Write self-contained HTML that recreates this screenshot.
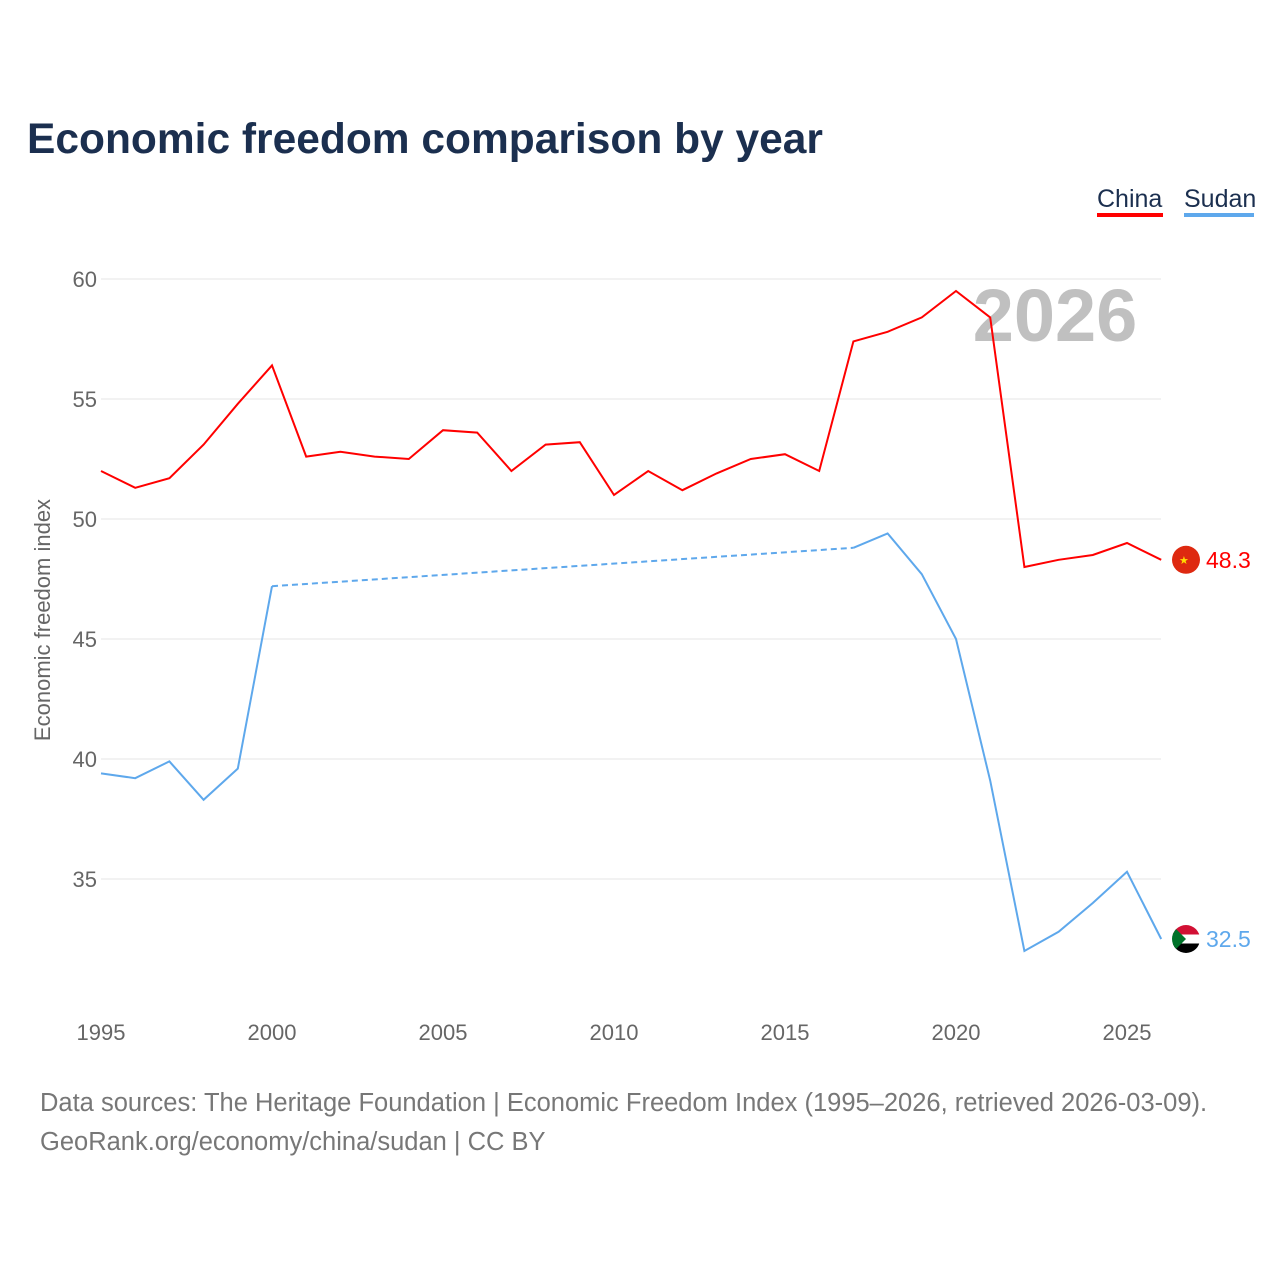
<!DOCTYPE html>
<html><head><meta charset="utf-8"><style>
body{margin:0;width:1280px;height:1280px;background:#fff;font-family:"Liberation Sans",sans-serif;overflow:hidden}
</style></head><body>
<svg width="1280" height="1280">
<defs><clipPath id="sdclip"><circle cx="1186" cy="938" r="14"/></clipPath></defs>
<text x="27" y="153" font-size="42.5" font-weight="bold" fill="#1b2f4f">Economic freedom comparison by year</text>
<g>
<text x="1097" y="207" font-size="25" fill="#1b2f4f">China</text>
<rect x="1097" y="213" width="66" height="4" fill="#f00"/>
<text x="1184" y="207" font-size="25" fill="#1b2f4f">Sudan</text>
<rect x="1184" y="213" width="70" height="4" fill="#5ea8ec"/>
</g>
<g id="grid"></g>
<text x="1055" y="341" font-size="74" font-weight="bold" fill="#c0c0c0" text-anchor="middle">2026</text>
<text transform="translate(50,620) rotate(-90)" font-size="22" fill="#666" text-anchor="middle">Economic freedom index</text>
<g id="series"></g>
<text x="40" y="1111" font-size="25.5" fill="#777">Data sources: The Heritage Foundation | Economic Freedom Index (1995–2026, retrieved 2026-03-09).</text>
<text x="40" y="1150" font-size="25.5" fill="#777">GeoRank.org/economy/china/sudan | CC BY</text>
</svg>
<script>
const years=[1995,1996,1997,1998,1999,2000,2001,2002,2003,2004,2005,2006,2007,2008,2009,2010,2011,2012,2013,2014,2015,2016,2017,2018,2019,2020,2021,2022,2023,2024,2025,2026];
const china=[52.0,51.3,51.7,53.1,54.8,56.4,52.6,52.8,52.6,52.5,53.7,53.6,52.0,53.1,53.2,51.0,52.0,51.2,51.9,52.5,52.7,52.0,57.4,57.8,58.4,59.5,58.4,48.0,48.3,48.5,49.0,48.3];
const sudan=[39.4,39.2,39.9,38.3,39.6,47.2,null,null,null,null,null,null,null,null,null,null,null,null,null,null,null,null,48.8,49.4,47.7,45.0,39.1,32.0,32.8,34.0,35.3,32.5];
const yTicks=[35,40,45,50,55,60];
const xTicks=[1995,2000,2005,2010,2015,2020,2025];
const NS="http://www.w3.org/2000/svg";
const X=y=>101+(y-1995)*34.2;
const Y=v=>279+(60-v)*24;
function mk(t,a,p){const e=document.createElementNS(NS,t);for(const k in a)e.setAttribute(k,a[k]);p.appendChild(e);return e;}
const grid=document.getElementById('grid'),ser=document.getElementById('series');
yTicks.forEach(v=>{
 const l=mk('line',{x1:101,x2:1161,y1:Y(v),y2:Y(v),stroke:'#e6e6e6','stroke-width':1},grid);
 
 
 const t=mk('text',{x:97,y:Y(v)+8,'font-size':22,fill:'#666','text-anchor':'end'},grid);t.textContent=v;
 
 
});
xTicks.forEach(v=>{
 const t=mk('text',{x:X(v),y:1040,'font-size':22,fill:'#666','text-anchor':'middle'},grid);t.textContent=v;
 
 
});
function draw(vals,color,name){
 let segs=[],cur=[];
 vals.forEach((v,i)=>{if(v==null){if(cur.length)segs.push(cur);cur=[];}else cur.push([X(years[i]),Y(v)]);});
 if(cur.length)segs.push(cur);
 segs.forEach(s=>{const p=mk('path',{d:'M'+s.map(q=>q.join(',')).join('L'),fill:'none',stroke:color,'stroke-width':2},ser);
  
  });
 for(let i=1;i<segs.length;i++){const a=segs[i-1][segs[i-1].length-1],b=segs[i][0];
  const p=mk('line',{x1:a[0],y1:a[1],x2:b[0],y2:b[1],stroke:color,'stroke-width':2,'stroke-dasharray':'6,4'},ser);
  
  }
 const lv=vals[vals.length-1],cy=Y(lv);
 const g=mk('g',{transform:`translate(0,${cy-938})`},ser);
 
 
 if(name=='sudan'){
  const f=mk('g',{'clip-path':'url(#sdclip)'},g);
  mk('rect',{x:1172,y:924,width:28,height:28,fill:'#fff'},f);
  mk('rect',{x:1172,y:924,width:28,height:9.5,fill:'#d21034'},f);
  mk('rect',{x:1172,y:942.5,width:28,height:9.5,fill:'#000'},f);
  mk('path',{d:'M1172,924L1186,938L1172,952Z',fill:'#007229'},f);
 } else {
  mk('circle',{cx:1186,cy:938,r:14,fill:'#de2910'},g);
  const st=mk('text',{x:1179,y:942,'font-size':11,fill:'#ffde00'},g);st.textContent='★';
 }
 const t=mk('text',{x:1206,y:cy+8,'font-size':23,fill:color},ser);t.textContent=lv.toFixed(1);
 
 
}
draw(china,'#ff0000','china');
draw(sudan,'#5ea8ec','sudan');
</script>
</body></html>
